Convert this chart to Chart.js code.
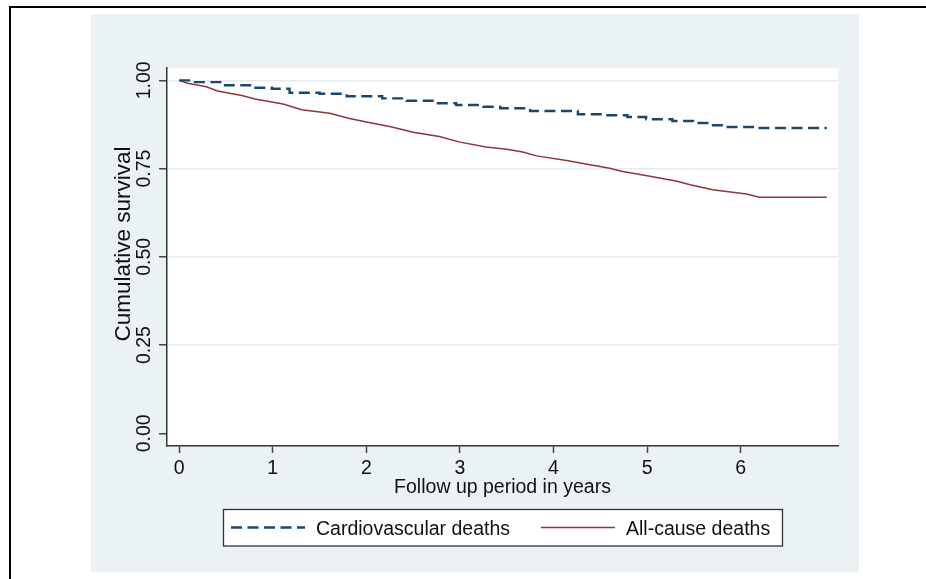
<!DOCTYPE html>
<html>
<head>
<meta charset="utf-8">
<script src="https://cdn.jsdelivr.net/npm/chart.js@4.4.1/dist/chart.umd.min.js"></script>
<style>
  html, body { margin: 0; padding: 0; background: #fff; overflow: hidden; }
  canvas { display: block; }
</style>
</head>
<body>
<canvas id="km" width="926" height="579"></canvas>
<script>
// Kaplan-Meier readings (years, cumulative survival)
const cvdTime = [0, 0.17, 0.49, 0.79, 0.99, 1.18, 1.5, 1.79, 2.17, 2.43, 2.75, 2.96, 3.25, 3.43, 3.75, 4.26, 4.53, 4.79, 4.99, 5.27, 5.49, 5.67, 5.81, 6.17, 6.92];
const cvdSurv = [1.0, 0.995, 0.986, 0.979, 0.976, 0.965, 0.962, 0.955, 0.949, 0.942, 0.935, 0.930, 0.925, 0.921, 0.913, 0.904, 0.901, 0.896, 0.890, 0.885, 0.879, 0.873, 0.868, 0.865, 0.865];

const allTime = [0, 0.09, 0.29, 0.41, 0.67, 0.81, 1.11, 1.31, 1.61, 1.82, 2.04, 2.25, 2.5, 2.78, 3.0, 3.28, 3.5, 3.67, 3.82, 4.14, 4.39, 4.6, 4.74, 5.03, 5.32, 5.46, 5.7, 5.85, 6.06, 6.2, 6.92];
const allSurv = [1.0, 0.992, 0.982, 0.970, 0.957, 0.947, 0.933, 0.917, 0.907, 0.892, 0.880, 0.869, 0.853, 0.841, 0.825, 0.811, 0.805, 0.797, 0.786, 0.773, 0.761, 0.751, 0.742, 0.728, 0.714, 0.704, 0.690, 0.685, 0.678, 0.669, 0.669];

const xTicks = [0, 1, 2, 3, 4, 5, 6];
const yTicks = [0, 0.25, 0.5, 0.75, 1];
const yTitle = 'Cumulative survival';

const NAVY = '#1a476f';
const MAROON = '#90353b';
const BLUISH = '#eaf2f3';
const FAMILY = '"Liberation Sans", Arial, sans-serif';
const FONT = { family: FAMILY, size: 19.5 };

const toPoints = (xs, ys) => xs.map((x, i) => ({ x: x, y: ys[i] }));

// page background, frame, graph region and white plot region
const backdrop = {
    id: 'backdrop',
    beforeDraw(chart) {
        const c = chart.ctx;
        const a = chart.chartArea;
        c.save();
        c.fillStyle = '#fff';
        c.fillRect(0, 0, chart.width, chart.height);
        c.fillStyle = BLUISH;
        c.fillRect(91, 14, 768, 558);
        c.fillStyle = '#fff';
        c.fillRect(a.left, a.top, a.right - a.left, a.bottom - a.top);
        c.strokeStyle = '#000';
        c.lineWidth = 2;
        c.beginPath();
        c.moveTo(10, 579);
        c.lineTo(10, 7);
        c.lineTo(926, 7);
        c.stroke();
        c.restore();
    },
    afterDraw(chart) {
        // y axis title, a bit larger and set above the axis centre as in the original
        const c = chart.ctx;
        c.save();
        c.translate(123.5, 244);
        c.rotate(-Math.PI / 2);
        c.font = '22.5px ' + FAMILY;
        c.fillStyle = '#111';
        c.textAlign = 'center';
        c.textBaseline = 'middle';
        c.fillText(yTitle, 0, 0);
        c.restore();
    }
};

// Stata style boxed legend under the axis title
const boxLegend = {
    id: 'boxLegend',
    afterDraw(chart) {
        const c = chart.ctx;
        const ds = chart.data.datasets;
        c.save();
        c.fillStyle = '#fff';
        c.fillRect(223.5, 509.5, 559, 36.5);
        c.strokeStyle = '#333';
        c.lineWidth = 1.3;
        c.strokeRect(223.5, 509.5, 559, 36.5);

        const starts = [231, 541];
        c.font = FONT.size + 'px ' + FAMILY;
        c.textBaseline = 'alphabetic';
        ds.forEach((d, i) => {
            const x0 = starts[i];
            c.strokeStyle = d.borderColor;
            c.lineWidth = d.borderWidth;
            c.setLineDash(d.borderDash || []);
            c.beginPath();
            c.moveTo(x0, 527.5);
            c.lineTo(x0 + 74, 527.5);
            c.stroke();
            c.setLineDash([]);
            c.fillStyle = '#111';
            c.fillText(d.label, x0 + 85, 535);
        });
        c.restore();
    }
};

new Chart(document.getElementById('km'), {
    type: 'line',
    data: {
        datasets: [
            {
                label: 'Cardiovascular deaths',
                data: toPoints(cvdTime, cvdSurv),
                borderColor: NAVY,
                borderWidth: 2.4,
                borderDash: [11, 5.5],
                stepped: true,
                pointRadius: 0,
                fill: false,
            },
            {
                label: 'All-cause deaths',
                data: toPoints(allTime, allSurv),
                borderColor: MAROON,
                borderWidth: 1.5,
                tension: 0,
                pointRadius: 0,
                fill: false,
            },
        ],
    },
    options: {
        responsive: false,
        animation: false,
        events: [],
        layout: { padding: { left: 111, right: 88, top: 68, bottom: 80 } },
        plugins: {
            legend: { display: false },
            tooltip: { enabled: false },
        },
        scales: {
            x: {
                type: 'linear',
                min: -0.13,
                max: 7.04,
                afterBuildTicks: (s) => { s.ticks = xTicks.map((v) => ({ value: v })); },
                afterFit: (s) => { s.height = 53; },
                border: { color: '#333', width: 1.5 },
                grid: { drawOnChartArea: false, color: '#444', tickColor: '#444', tickLength: 7, tickWidth: 1.5 },
                ticks: { autoSkip: false, maxRotation: 0, padding: 4, color: '#111', font: FONT, callback: (v) => String(v) },
                title: { display: true, text: 'Follow up period in years', color: '#111', font: FONT, padding: 0 },
            },
            y: {
                type: 'linear',
                min: -0.036,
                max: 1.035,
                afterBuildTicks: (s) => { s.ticks = yTicks.map((v) => ({ value: v })); },
                afterFit: (s) => { s.width = 56; },
                border: { color: '#333', width: 1.5 },
                grid: {
                    color: (ctx) => (ctx.tick && ctx.tick.value === 0 ? 'rgba(0,0,0,0)' : '#e3ecee'),
                    lineWidth: 1.5,
                    tickColor: '#444',
                    tickLength: 8,
                    tickWidth: 1.5,
                },
                ticks: {
                    minRotation: 90,
                    maxRotation: 90,
                    crossAlign: 'center',
                    padding: -5,
                    color: '#111',
                    font: FONT,
                    callback: (v) => Number(v).toFixed(2),
                },
                title: { display: false },
            },
        },
    },
    plugins: [backdrop, boxLegend],
});
</script>
</body>
</html>
